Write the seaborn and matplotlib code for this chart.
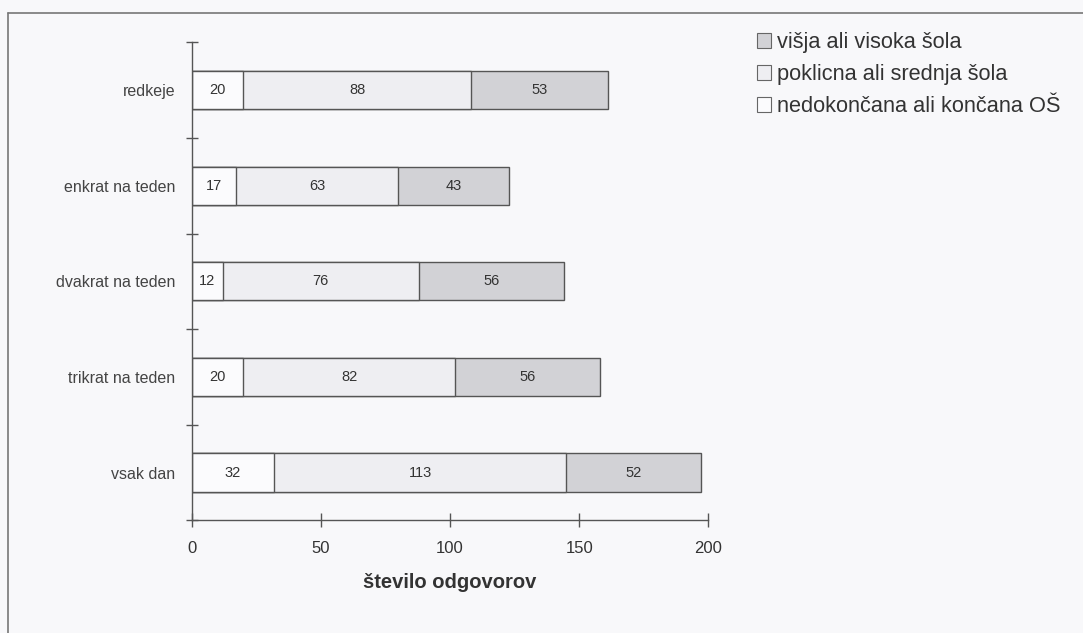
import matplotlib
matplotlib.use("Agg")
import matplotlib.pyplot as plt
import seaborn as sns
import pandas as pd
import numpy as np
from matplotlib.patches import Patch
from matplotlib.lines import Line2D

categories = ["redkeje", "enkrat na teden", "dvakrat na teden", "trikrat na teden", "vsak dan"]
os_vals = [20, 17, 12, 20, 32]          # nedokončana ali končana OŠ
srednja_vals = [88, 63, 76, 82, 113]    # poklicna ali srednja šola
visoka_vals = [53, 43, 56, 56, 52]      # višja ali visoka šola
series_names = ["nedokončana ali končana OŠ", "poklicna ali srednja šola", "višja ali visoka šola"]
legend_order = ["višja ali visoka šola", "poklicna ali srednja šola", "nedokončana ali končana OŠ"]

colors = {"nedokončana ali končana OŠ": "#fbfbfd",
          "poklicna ali srednja šola": "#eeeef2",
          "višja ali visoka šola": "#d2d2d6"}
edge = "#555555"
bg = "#f8f8fa"

sns.set_theme(style="white")
plt.rcParams['font.family'] = ['Liberation Sans', 'DejaVu Sans']

df = pd.DataFrame({"cat": categories, "os": os_vals, "sr": srednja_vals, "vi": visoka_vals})
df["c1"] = df["os"]
df["c2"] = df["os"] + df["sr"]
df["c3"] = df["os"] + df["sr"] + df["vi"]

fig = plt.figure(figsize=(10.83, 6.33), dpi=100, facecolor=bg)
ax = fig.add_axes([0.177, 0.178, 0.477, 0.755])
ax.set_facecolor(bg)

for col, name in [("c3", series_names[2]), ("c2", series_names[1]), ("c1", series_names[0])]:
    sns.barplot(data=df, x=col, y="cat", order=categories, orient="h",
                color=colors[name], edgecolor=edge, linewidth=1.0, width=0.4,
                saturation=1, ax=ax)

# segment labels
for i in range(len(categories)):
    starts = [0, df["c1"][i], df["c2"][i]]
    vals = [df["os"][i], df["sr"][i], df["vi"][i]]
    for s, v in zip(starts, vals):
        ax.text(s + v / 2, i, str(v), ha="center", va="center", fontsize=10.5, color="#333333")

ax.set_xlim(0, 200)
ax.set_ylim(len(categories) - 0.5, -0.5)
ax.set_xticks([0, 50, 100, 150, 200])
ax.set_xticklabels(["0", "50", "100", "150", "200"])
ax.set_yticks(range(len(categories)))
ax.set_yticklabels(categories)
ax.set_yticks(np.arange(-0.5, len(categories), 1.0), minor=True)
ax.tick_params(axis="y", which="major", left=False, length=0, labelsize=11.5, colors="#444444", pad=12)
ax.tick_params(axis="y", which="minor", left=True, length=9, direction="inout", color="#555555", width=1)
ax.tick_params(axis="x", which="major", bottom=True, length=10, direction="inout", color="#555555", width=1,
               labelsize=12, labelcolor="#333333", pad=10)
ax.set_xlabel("število odgovorov", fontsize=14.5, fontweight="bold", color="#333333", labelpad=12)
ax.set_ylabel("")
for s in ["top", "right"]:
    ax.spines[s].set_visible(False)
for s in ["left", "bottom"]:
    ax.spines[s].set_color("#555555")
    ax.spines[s].set_linewidth(1)

handles = [Patch(facecolor=colors[n], edgecolor="#666666", linewidth=0.8) for n in legend_order]
fig.legend(handles, legend_order, loc="upper left", bbox_to_anchor=(0.681, 0.98),
           frameon=False, fontsize=15.7, handlelength=0.65, handleheight=0.65,
           handletextpad=0.25, labelspacing=0.5, labelcolor="#333333")

# outer frame lines (top and left)
fig.add_artist(Line2D([8 / 1083, 1.0], [1 - 13 / 633, 1 - 13 / 633], transform=fig.transFigure,
                      color="#777777", linewidth=1.2))
fig.add_artist(Line2D([8 / 1083, 8 / 1083], [0, 1 - 13 / 633], transform=fig.transFigure,
                      color="#777777", linewidth=1.2))

fig.savefig("out.png", dpi=100, facecolor=bg)
